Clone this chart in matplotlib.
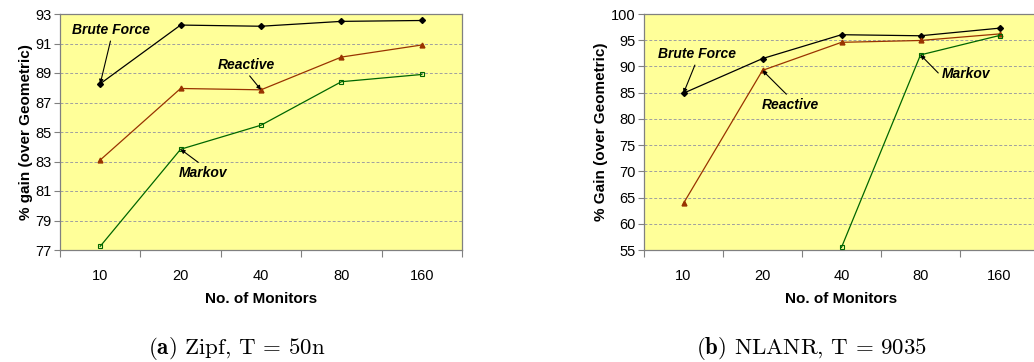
import matplotlib
matplotlib.use("Agg")
import matplotlib.pyplot as plt
import numpy as np

plt.rcParams['font.family'] = ['Liberation Sans', 'DejaVu Sans']
plt.rcParams['mathtext.fontset'] = 'cm'

monitors = ["10", "20", "40", "80", "160"]

# Zipf workload, T = 50n
zipf_brute = [88.27, 92.25, 92.17, 92.50, 92.56]
zipf_reactive = [83.10, 87.95, 87.86, 90.08, 90.90]
zipf_markov = [77.25, 83.83, 85.46, 88.41, 88.90]
zipf_ticks = [77, 79, 81, 83, 85, 87, 89, 91, 93]

# NLANR trace, T = 9035
nlanr_brute = [84.9, 91.5, 96.05, 95.85, 97.3]
nlanr_reactive = [63.9, 89.25, 94.6, 94.95, 96.2]
nlanr_markov = [np.nan, np.nan, 55.5, 92.2, 95.9]
nlanr_ticks = [55, 60, 65, 70, 75, 80, 85, 90, 95, 100]

captions = [r"$\mathbf{(a)}$ Zipf, T = 50n", r"$\mathbf{(b)}$ NLANR, T = 9035"]

BG = "#FFFF99"
BRUTE_C = "black"
REACT_C = "#993300"
MARK_C = "#006600"
FRAME_C = "#808080"

fig = plt.figure(figsize=(10.34, 3.62), dpi=100)
ax1 = fig.add_axes([60 / 1034, 1 - 250 / 362, 402 / 1034, 236 / 362])
ax2 = fig.add_axes([644 / 1034, 1 - 250 / 362, 395 / 1034, 236 / 362])


def style_axes(ax, ticks, ylabel):
    x = np.arange(len(monitors))
    ax.set_facecolor(BG)
    ax.set_xlim(-0.5, len(monitors) - 0.5)
    ax.set_ylim(ticks[0], ticks[-1])
    ax.set_yticks(ticks)
    ax.set_yticklabels([str(t) for t in ticks], fontsize=10.5)
    ax.set_xticks(x)
    ax.set_xticklabels(monitors, fontsize=10.5)
    ax.set_xticks(np.arange(-0.5, len(monitors)), minor=True)
    ax.tick_params(axis='x', which='major', length=0, pad=14)
    ax.tick_params(axis='x', which='minor', length=5, width=0.8, color=FRAME_C, direction='out')
    ax.tick_params(axis='y', length=4, width=0.8, color=FRAME_C, direction='out', pad=2)
    for s in ax.spines.values():
        s.set_color(FRAME_C)
        s.set_linewidth(0.9)
    for t in ticks[1:-1]:
        ax.axhline(t, color="#A0A0A0", lw=0.7, ls=(0, (3, 2)), zorder=0.5)
    ax.set_xlabel("No. of Monitors", fontsize=11, fontweight='bold', labelpad=6)
    ax.set_ylabel(ylabel, fontsize=11, fontweight='bold', labelpad=2)


def plot_series(ax, brute, reactive, markov):
    x = np.arange(len(monitors))
    ax.plot(x, brute, color=BRUTE_C, lw=0.9, marker='D', ms=3, mfc=BRUTE_C, mec=BRUTE_C, zorder=3)
    ax.plot(x, reactive, color=REACT_C, lw=0.9, marker='^', ms=3.5, mfc=REACT_C, mec=REACT_C, zorder=3)
    ax.plot(x, markov, color=MARK_C, lw=0.9, marker='s', ms=3.2, mfc='none', mec=MARK_C, mew=0.8, zorder=3)


def label(ax, text, xy, xytext, relpos):
    ax.annotate(text, xy=xy, xytext=xytext, ha='center', va='center',
                fontsize=10, fontweight='bold', fontstyle='italic',
                arrowprops=dict(arrowstyle='-|>', color='black', lw=0.8,
                                mutation_scale=6, shrinkA=1, shrinkB=0,
                                relpos=relpos),
                zorder=5)


style_axes(ax1, zipf_ticks, "% gain (over Geometric)")
plot_series(ax1, zipf_brute, zipf_reactive, zipf_markov)
label(ax1, "Brute Force", (0, zipf_brute[0]), (0.14, 91.92), (0.5, 0))
label(ax1, "Reactive", (2, zipf_reactive[2]), (1.82, 89.54), (0.5, 0))
label(ax1, "Markov", (1, zipf_markov[1]), (1.28, 82.22), (0.5, 1))

style_axes(ax2, nlanr_ticks, "% Gain (over Geometric)")
plot_series(ax2, nlanr_brute, nlanr_reactive, nlanr_markov)
label(ax2, "Brute Force", (0, nlanr_brute[0]), (0.165, 92.37), (0.5, 0))
label(ax2, "Reactive", (1, nlanr_reactive[1]), (1.35, 82.65), (0.5, 1))
label(ax2, "Markov", (3, nlanr_markov[3]), (3.58, 88.56), (0, 0.3))

# Sub-figure captions
for xc, cap in zip([237 / 1034, 812 / 1034], captions):
    fig.text(xc, 1 - 354 / 362, cap, fontsize=16.5, family='cmr10', ha='center', va='baseline')

fig.savefig("out.png", dpi=100, facecolor='white')
